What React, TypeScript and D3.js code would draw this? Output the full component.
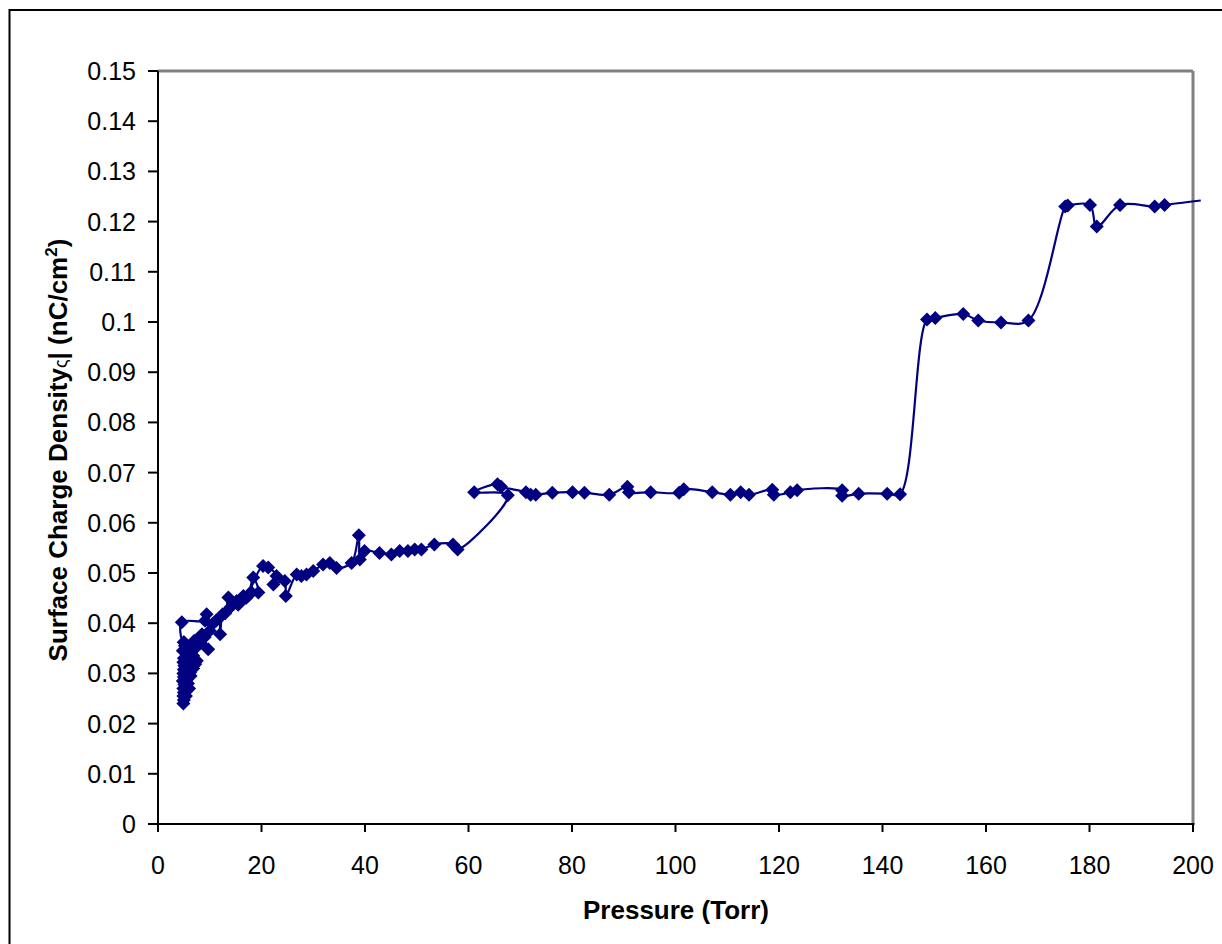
import React from "react";
import * as d3 from "d3";

const pressure: number[] = [
  4.9, 5.0, 4.9, 5.0, 5.4, 5.5, 4.9, 6.0, 5.1, 5.8, 4.8, 6.3, 5.0, 4.9, 6.8, 5.0, 5.1, 6.6, 7.2, 4.9, 5.0, 4.8, 5.0, 5.2,
  5.6, 6.2, 5.8, 6.0, 5.5, 6.0, 6.8, 7.5, 7.2, 6.5, 7.0, 8.2, 9.7, 8.5, 9.0, 7.8, 5.0,
  4.6, 9.1, 9.4, 10.0, 10.5, 11.2, 11.8, 12.0, 12.5, 13.0, 13.6, 14.0, 14.5, 15.2, 15.5,
  16.2, 16.5, 17.0, 17.5, 18.4, 19.4, 18.0, 20.3, 21.3, 22.9, 22.3, 24.5, 24.7, 26.8,
  27.7, 28.7, 30.0, 31.9, 33.2, 34.5, 37.4, 38.8, 39.0, 39.9, 42.8, 45.1, 46.7, 48.3,
  49.6, 50.9, 53.4, 57.0, 57.9, 67.6, 61.1, 65.6, 66.3, 71.1, 72.0, 73.0, 76.2, 80.1,
  82.4, 87.2, 90.7, 91.0, 95.2, 100.7, 101.6, 107.1, 110.6, 112.6, 114.2, 118.7, 119.0,
  122.2, 123.5, 132.2, 132.2, 135.4, 140.9, 143.4, 148.6, 150.2, 155.6, 158.5, 162.9,
  168.2, 175.3, 175.8, 180.1, 181.4, 185.9, 192.6, 194.5, 201.5,
];

const density: number[] = [
  0.0240, 0.0247, 0.0255, 0.0262, 0.0255, 0.0265, 0.0270, 0.0270, 0.0278, 0.0280, 0.0285, 0.0295, 0.0293, 0.0300, 0.0310, 0.0308, 0.0315, 0.0325, 0.0318, 0.0322, 0.0330, 0.0345, 0.0362, 0.0355,
  0.0290, 0.0302, 0.0305, 0.0318, 0.0330, 0.0345, 0.0335, 0.0325, 0.0350, 0.0355, 0.0365, 0.0360, 0.0348, 0.0378, 0.0372, 0.0370, 0.0362,
  0.0402, 0.0405, 0.0418, 0.0385, 0.0398, 0.0405, 0.0410, 0.0378, 0.0418, 0.0420, 0.0451, 0.0432, 0.0440, 0.0444, 0.0437,
  0.0445, 0.0454, 0.0450, 0.0455, 0.0491, 0.0461, 0.0462, 0.0514, 0.0511, 0.0494, 0.0477, 0.0484, 0.0454, 0.0497,
  0.0494, 0.0497, 0.0504, 0.0517, 0.0520, 0.0510, 0.0520, 0.0575, 0.0527, 0.0544, 0.0540, 0.0537, 0.0544, 0.0544,
  0.0547, 0.0547, 0.0557, 0.0557, 0.0547, 0.0655, 0.0661, 0.0677, 0.0672, 0.0661, 0.0656, 0.0656, 0.0660, 0.0661,
  0.0660, 0.0656, 0.0672, 0.0661, 0.0661, 0.0660, 0.0667, 0.0661, 0.0656, 0.0661, 0.0656, 0.0666, 0.0656,
  0.0661, 0.0665, 0.0665, 0.0654, 0.0658, 0.0658, 0.0657, 0.1005, 0.1008, 0.1016, 0.1003, 0.0999,
  0.1003, 0.1230, 0.1232, 0.1233, 0.1190, 0.1233, 0.1230, 0.1233, 0.1242,
];

const xTicks: number[] = [0, 20, 40, 60, 80, 100, 120, 140, 160, 180, 200];
const yTicks: number[] = [0, 0.01, 0.02, 0.03, 0.04, 0.05, 0.06, 0.07, 0.08, 0.09, 0.1, 0.11, 0.12, 0.13, 0.14, 0.15];

const xTitle = "Pressure (Torr)";

export default function App() {
  const left = 158;
  const right = 1193;
  const top = 71;
  const bottom = 824;
  const x = d3.scaleLinear().domain([0, 200]).range([left, right]);
  const y = d3.scaleLinear().domain([0, 0.15]).range([bottom, top]);
  const pts: [number, number][] = pressure.map((p, i) => [p, density[i]]);
  const line = d3
    .line<[number, number]>()
    .x((d) => x(d[0]))
    .y((d) => y(d[1]))
    .curve(d3.curveCatmullRom.alpha(0.5));
  const navy = "#000080";
  const font = "'Liberation Sans', Arial, sans-serif";
  const m = 7;
  const diamond = `M0,${-m}L${m},0L0,${m}L${-m},0Z`;
  return (
    <svg
      width={1222}
      height={944}
      style={{ position: "absolute", left: 0, top: 0, background: "#fff" }}
      fontFamily={font}
    >
      <rect x={0} y={0} width={1222} height={944} fill="#fff" />
      <rect x={9.5} y={10} width={1300} height={1000} fill="none" stroke="#000" strokeWidth={2} />
      <line x1={left} x2={right} y1={top} y2={top} stroke="#808080" strokeWidth={3} />
      <line x1={right} x2={right} y1={top} y2={bottom} stroke="#808080" strokeWidth={3} />
      <line x1={left} x2={left} y1={top} y2={bottom + 1} stroke="#000" strokeWidth={2} />
      <line x1={left - 1} x2={right + 1.5} y1={bottom} y2={bottom} stroke="#000" strokeWidth={2} />
      {yTicks.map((t) => (
        <g key={"y" + t}>
          <line x1={left - 10} x2={left} y1={y(t)} y2={y(t)} stroke="#000" strokeWidth={2} />
          <text x={136} y={y(t)} dy="0.36em" textAnchor="end" fontSize={25} fill="#000">
            {t === 0 ? "0" : String(+t.toFixed(2))}
          </text>
        </g>
      ))}
      {xTicks.map((t) => (
        <g key={"x" + t}>
          <line x1={x(t)} x2={x(t)} y1={bottom} y2={bottom + 8} stroke="#000" strokeWidth={2} />
          <text x={x(t)} y={874} textAnchor="middle" fontSize={25} fill="#000">
            {t}
          </text>
        </g>
      ))}
      <text x={676} y={919} textAnchor="middle" fontSize={26} fontWeight="bold" fill="#000">
        {xTitle}
      </text>
      <text
        transform="translate(67,450) rotate(-90)"
        textAnchor="middle"
        fontSize={26}
        fontWeight="bold"
        fill="#000"
      >
        Surface Charge Density
        <tspan fontWeight="normal" fontSize={18}>ς</tspan>
        {"| (nC/cm"}
        <tspan dy={-10} fontSize={17}>2</tspan>
        <tspan dy={10}>)</tspan>
      </text>
      <path d={line(pts) || ""} fill="none" stroke={navy} strokeWidth={2.2} />
      {pts
        .filter((d) => d[0] <= 200)
        .map((d, i) => (
          <path key={i} d={diamond} transform={`translate(${x(d[0])},${y(d[1])})`} fill={navy} />
        ))}
    </svg>
  );
}
